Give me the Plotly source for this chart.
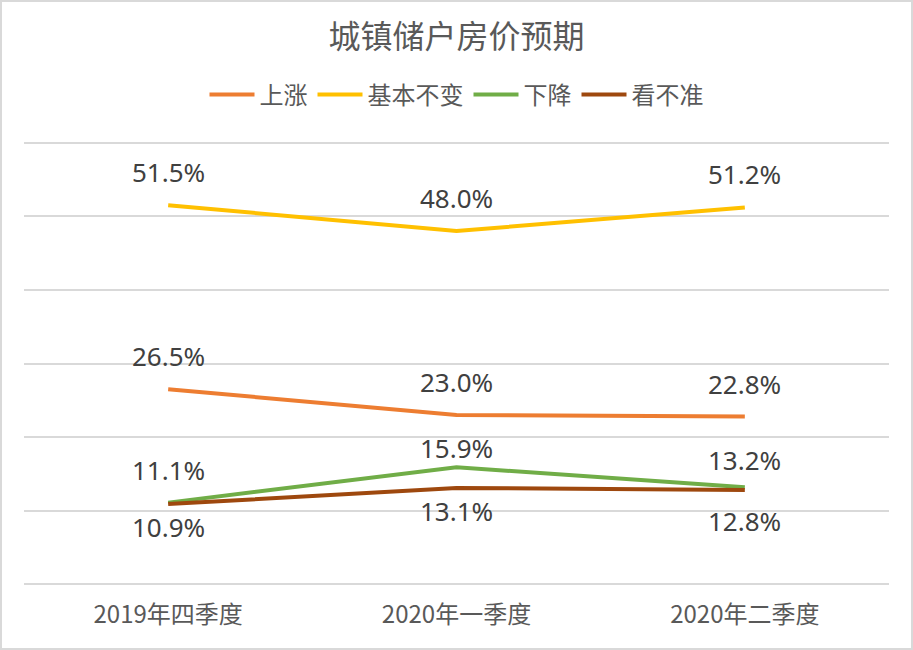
import plotly.graph_objects as go

categories = ["2019年四季度", "2020年一季度", "2020年二季度"]
rise = [26.5, 23.0, 22.8]
stable = [51.5, 48.0, 51.2]
fall = [11.1, 15.9, 13.2]
unsure = [10.9, 13.1, 12.8]

# label offsets in pixels (positive = above the point)
rise_shift = [33, 33, 33]
stable_shift = [33, 33, 33]
fall_shift = [33, 19, 27]
unsure_shift = [-23, -23, -31]

series = [
    ("上涨", rise, "#ED7D31", rise_shift),
    ("基本不变", stable, "#FFC000", stable_shift),
    ("下降", fall, "#70AD47", fall_shift),
    ("看不准", unsure, "#9E480E", unsure_shift),
]

W, H = 913, 650
ml, mr, mt, mb = 24, 24, 139, 62

fig = go.Figure()
annotations = []
for name, vals, color, shifts in series:
    fig.add_trace(go.Scatter(
        x=categories, y=vals, name=name, mode="lines",
        line=dict(color=color, width=4),
    ))
    for c, v, s in zip(categories, vals, shifts):
        annotations.append(dict(
            x=c, y=v, xref="x", yref="y", text=f"{v:.1f}%",
            showarrow=False, yshift=s,
            font=dict(family="Noto Sans, sans-serif", size=26, color="#404040"),
        ))

pw = W - ml - mr
ph = H - mt - mb
fig.update_layout(
    width=W, height=H,
    margin=dict(l=ml, r=mr, t=mt, b=mb),
    paper_bgcolor="white", plot_bgcolor="white",
    title=dict(text="城镇储户房价预期", x=0.5, xanchor="center", y=1 - 37 / H, yanchor="middle",
               font=dict(family="Noto Sans CJK SC", size=32, color="#595959")),
    legend=dict(orientation="h", x=0.5, xanchor="center", y=1 + (mt - 95) / ph, yanchor="middle",
                font=dict(family="Noto Sans CJK SC", size=24, color="#595959"),
                itemwidth=45, tracegroupgap=0),
    xaxis=dict(type="category", range=[-0.5, 2.5], showgrid=False, showline=False,
               ticks="", ticklabelstandoff=10,
               tickfont=dict(family="Noto Sans CJK SC", size=24, color="#595959")),
    yaxis=dict(range=[-0.5, 60.5], dtick=10, tick0=0, showgrid=True, gridcolor="#D9D9D9", gridwidth=1.5,
               zeroline=True, zerolinecolor="#D9D9D9", zerolinewidth=1.5,
               showticklabels=False, showline=False),
    annotations=annotations,
    shapes=[dict(type="rect", xref="paper", yref="paper",
                 x0=-(ml - 1) / pw, x1=1 + (mr - 1) / pw,
                 y0=-(mb - 1) / ph, y1=1 + (mt - 1) / ph,
                 line=dict(color="#D9D9D9", width=2))],
)
fig.write_html("out.html", config={"displayModeBar": False},
               post_script="document.body.style.margin='0';document.body.style.overflow='hidden';")
